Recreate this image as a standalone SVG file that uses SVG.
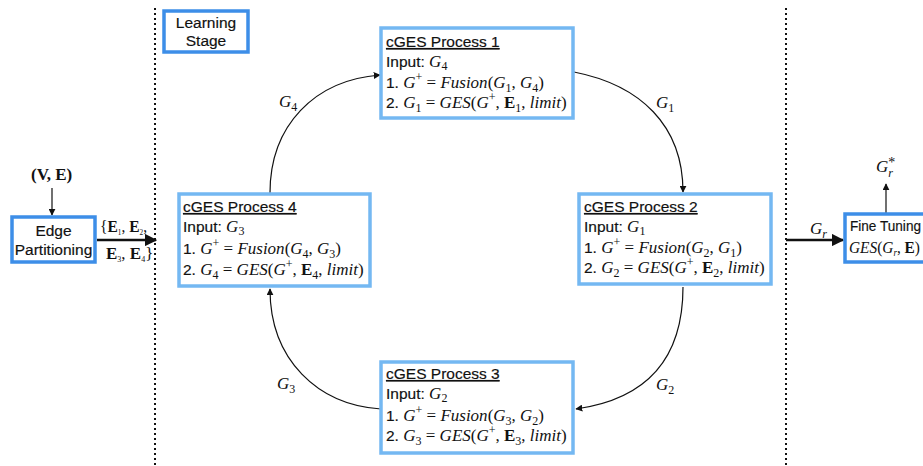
<svg xmlns="http://www.w3.org/2000/svg" width="923" height="466" viewBox="0 0 923 466">
<defs>
<style>
.s{font-family:"Liberation Sans",Arial,sans-serif;font-size:15.5px;fill:#111;stroke:#111;stroke-width:0.18}
.m{font-family:"Liberation Serif","Times New Roman",serif;font-size:17px;fill:#111;stroke:none}
.i{font-style:italic}
.b{font-weight:bold}
.u{text-decoration:underline}
.sub{font-size:12px}
.dark{fill:#fff;stroke:#3d8ee8;stroke-width:3.5}
.light{fill:#fff;stroke:#74b8f2;stroke-width:3.5}
.dot{stroke:#111;stroke-width:2;stroke-dasharray:2,3;fill:none}
.c{fill:none;stroke:#111;stroke-width:1.2}
.t{fill:none;stroke:#111;stroke-width:2.5}
</style>
<marker id="ah" viewBox="0 0 10 10" refX="9" refY="5" markerWidth="7" markerHeight="7" markerUnits="userSpaceOnUse" orient="auto"><path d="M0,0 L10,5 L0,10 z" fill="#111"/></marker>
<marker id="ahb" viewBox="0 0 10 10" refX="9" refY="5" markerWidth="5" markerHeight="5" orient="auto"><path d="M0,0 L10,5 L0,10 z" fill="#111"/></marker>
</defs>

<g id="separators">
<line class="dot" x1="155" y1="8" x2="155" y2="466"/>
<line class="dot" x1="786" y1="8" x2="786" y2="466"/>
</g>

<g id="connectors">
<line class="c" x1="52" y1="188" x2="52" y2="215" marker-end="url(#ah)"/>
<line class="t" x1="97" y1="240" x2="156" y2="240" marker-end="url(#ahb)"/>
<path class="c" d="M270,193 C270,125 315,80 380,75" marker-end="url(#ah)"/>
<path class="c" d="M574,72 C640,85 683,125 683,192" marker-end="url(#ah)"/>
<path class="c" d="M683,287 C683,365 640,400 576,409" marker-end="url(#ah)"/>
<path class="c" d="M381,409 C318,405 270,360 270,289" marker-end="url(#ah)"/>
<line class="t" x1="786" y1="240" x2="843" y2="240" marker-end="url(#ahb)"/>
<line class="c" x1="886" y1="213" x2="886" y2="184" marker-end="url(#ah)"/>
</g>

<g id="connector-labels">
<text class="m b" x="31" y="180" font-size="15">(V, E)</text>
<text class="m" x="100" y="232" font-size="11" textLength="47" lengthAdjust="spacingAndGlyphs">{<tspan class="b">E</tspan><tspan font-size="8" dy="3">1</tspan><tspan dy="-3">, </tspan><tspan class="b">E</tspan><tspan font-size="8" dy="3">2</tspan><tspan dy="-3">,</tspan></text>
<text class="m" x="106" y="259" font-size="11"><tspan class="b">E</tspan><tspan font-size="8" dy="3">3</tspan><tspan dy="-3">, </tspan><tspan class="b">E</tspan><tspan font-size="8" dy="3">4</tspan><tspan dy="-3">}</tspan></text>
<text class="m i" x="279" y="107">G<tspan class="sub" font-style="normal" dy="4">4</tspan></text>
<text class="m i" x="656" y="108">G<tspan class="sub" font-style="normal" dy="4">1</tspan></text>
<text class="m i" x="656" y="390">G<tspan class="sub" font-style="normal" dy="4">2</tspan></text>
<text class="m i" x="277" y="389">G<tspan class="sub" font-style="normal" dy="4">3</tspan></text>
<text class="m i" x="810" y="234">G<tspan class="sub" dy="4">r</tspan></text>
<text class="m i" x="876" y="172">G<tspan font-size="14" font-style="normal" dy="-5">*</tspan><tspan class="sub" dx="-7" dy="10">r</tspan></text>
</g>

<g id="edge-partitioning">
<rect class="dark" x="12" y="217" width="83" height="45"/>
<text class="s" x="53.5" y="236" text-anchor="middle" font-size="14.5">Edge</text>
<text class="s" x="53.5" y="255" text-anchor="middle" font-size="14.5">Partitioning</text>
</g>

<g id="learning-stage">
<rect class="dark" x="164" y="11" width="84" height="41"/>
<text class="s" x="206" y="28" text-anchor="middle" font-size="14.5">Learning</text>
<text class="s" x="206" y="46" text-anchor="middle" font-size="14.5">Stage</text>
</g>

<g id="process1">
<rect class="light" x="381" y="28" width="192" height="90"/>
<text class="s u" x="386" y="47">cGES Process 1</text>
<text class="s" x="386" y="67">Input: <tspan class="m i">G</tspan><tspan class="m sub" dy="3">4</tspan></text>
<text class="s" x="386" y="88">1. <tspan class="m i">G</tspan><tspan class="m sub" dy="-7">+</tspan><tspan class="m" dy="7"> = </tspan><tspan class="m i">Fusion</tspan><tspan class="m">(</tspan><tspan class="m i">G</tspan><tspan class="m sub" dy="4">1</tspan><tspan class="m" dy="-4">, </tspan><tspan class="m i">G</tspan><tspan class="m sub" dy="4">4</tspan><tspan class="m" dy="-4">)</tspan></text>
<text class="s" x="386" y="108">2. <tspan class="m i">G</tspan><tspan class="m sub" dy="4">1</tspan><tspan class="m" dy="-4"> = </tspan><tspan class="m i">GES</tspan><tspan class="m">(</tspan><tspan class="m i">G</tspan><tspan class="m sub" dy="-7">+</tspan><tspan class="m" dy="7">, </tspan><tspan class="m b">E</tspan><tspan class="m sub" dy="4">1</tspan><tspan class="m" dy="-4">, </tspan><tspan class="m i">limit</tspan><tspan class="m">)</tspan></text>
</g>

<g id="process2">
<rect class="light" x="579" y="194" width="192" height="90"/>
<text class="s u" x="584" y="212">cGES Process 2</text>
<text class="s" x="584" y="232">Input: <tspan class="m i">G</tspan><tspan class="m sub" dy="3">1</tspan></text>
<text class="s" x="584" y="253">1. <tspan class="m i">G</tspan><tspan class="m sub" dy="-7">+</tspan><tspan class="m" dy="7"> = </tspan><tspan class="m i">Fusion</tspan><tspan class="m">(</tspan><tspan class="m i">G</tspan><tspan class="m sub" dy="4">2</tspan><tspan class="m" dy="-4">, </tspan><tspan class="m i">G</tspan><tspan class="m sub" dy="4">1</tspan><tspan class="m" dy="-4">)</tspan></text>
<text class="s" x="584" y="273">2. <tspan class="m i">G</tspan><tspan class="m sub" dy="4">2</tspan><tspan class="m" dy="-4"> = </tspan><tspan class="m i">GES</tspan><tspan class="m">(</tspan><tspan class="m i">G</tspan><tspan class="m sub" dy="-7">+</tspan><tspan class="m" dy="7">, </tspan><tspan class="m b">E</tspan><tspan class="m sub" dy="4">2</tspan><tspan class="m" dy="-4">, </tspan><tspan class="m i">limit</tspan><tspan class="m">)</tspan></text>
</g>

<g id="process3">
<rect class="light" x="381" y="362" width="192" height="91"/>
<text class="s u" x="386" y="379">cGES Process 3</text>
<text class="s" x="386" y="399">Input: <tspan class="m i">G</tspan><tspan class="m sub" dy="3">2</tspan></text>
<text class="s" x="386" y="421">1. <tspan class="m i">G</tspan><tspan class="m sub" dy="-7">+</tspan><tspan class="m" dy="7"> = </tspan><tspan class="m i">Fusion</tspan><tspan class="m">(</tspan><tspan class="m i">G</tspan><tspan class="m sub" dy="4">3</tspan><tspan class="m" dy="-4">, </tspan><tspan class="m i">G</tspan><tspan class="m sub" dy="4">2</tspan><tspan class="m" dy="-4">)</tspan></text>
<text class="s" x="386" y="441">2. <tspan class="m i">G</tspan><tspan class="m sub" dy="4">3</tspan><tspan class="m" dy="-4"> = </tspan><tspan class="m i">GES</tspan><tspan class="m">(</tspan><tspan class="m i">G</tspan><tspan class="m sub" dy="-7">+</tspan><tspan class="m" dy="7">, </tspan><tspan class="m b">E</tspan><tspan class="m sub" dy="4">3</tspan><tspan class="m" dy="-4">, </tspan><tspan class="m i">limit</tspan><tspan class="m">)</tspan></text>
</g>

<g id="process4">
<rect class="light" x="179" y="194" width="191" height="92"/>
<text class="s u" x="183" y="212">cGES Process 4</text>
<text class="s" x="183" y="232">Input: <tspan class="m i">G</tspan><tspan class="m sub" dy="3">3</tspan></text>
<text class="s" x="183" y="254">1. <tspan class="m i">G</tspan><tspan class="m sub" dy="-7">+</tspan><tspan class="m" dy="7"> = </tspan><tspan class="m i">Fusion</tspan><tspan class="m">(</tspan><tspan class="m i">G</tspan><tspan class="m sub" dy="4">4</tspan><tspan class="m" dy="-4">, </tspan><tspan class="m i">G</tspan><tspan class="m sub" dy="4">3</tspan><tspan class="m" dy="-4">)</tspan></text>
<text class="s" x="183" y="275">2. <tspan class="m i">G</tspan><tspan class="m sub" dy="4">4</tspan><tspan class="m" dy="-4"> = </tspan><tspan class="m i">GES</tspan><tspan class="m">(</tspan><tspan class="m i">G</tspan><tspan class="m sub" dy="-7">+</tspan><tspan class="m" dy="7">, </tspan><tspan class="m b">E</tspan><tspan class="m sub" dy="4">4</tspan><tspan class="m" dy="-4">, </tspan><tspan class="m i">limit</tspan><tspan class="m">)</tspan></text>
</g>

<g id="fine-tuning">
<rect class="dark" x="845" y="214" width="90" height="48"/>
<text class="s" x="850" y="231" font-size="14" textLength="71" lengthAdjust="spacingAndGlyphs">Fine Tuning</text>
<text class="m" x="849" y="253" font-size="16" textLength="71" lengthAdjust="spacingAndGlyphs"><tspan class="i">GES</tspan>(<tspan class="i">G</tspan><tspan class="i" font-size="10" dy="3">r</tspan><tspan dy="-3">, </tspan><tspan class="b">E</tspan>)</text>
</g>
</svg>
